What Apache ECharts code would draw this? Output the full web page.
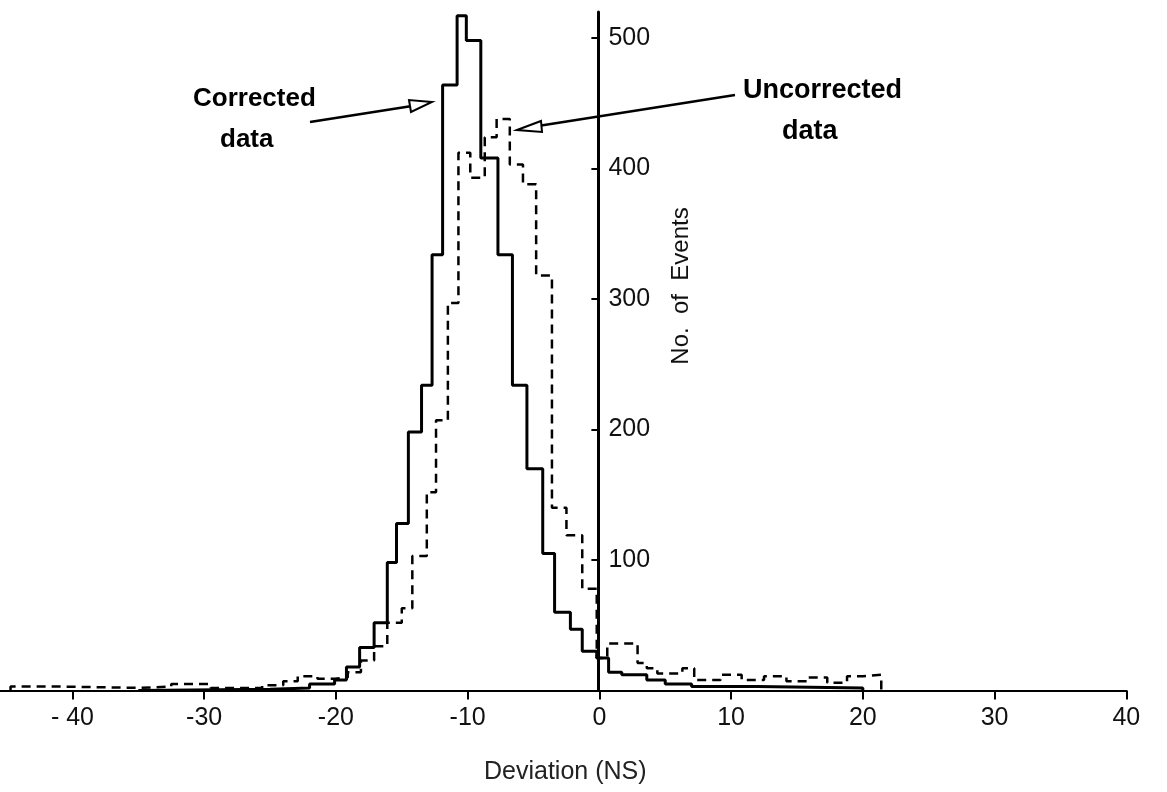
<!DOCTYPE html>
<html><head><meta charset="utf-8">
<script src="https://cdn.jsdelivr.net/npm/echarts@6/dist/echarts.min.js"></script>
<style>html,body{margin:0;padding:0;background:#fff}#c{width:1167px;height:792px}</style>
</head><body><div id="c"></div>
<script>
const xTickValues = [-40, -30, -20, -10, 0, 10, 20, 30, 40];
const xTickLabels = ['- 40', '-30', '-20', '-10', '0', '10', '20', '30', '40'];
const yTickValues = [100, 200, 300, 400, 500];

// Corrected data (solid): bin edges (ns) as drawn, and counts per bin
const correctedEdges = [-35, -25, -22, -20.1, -19.2, -18.2, -17.1, -16.1, -15.4, -14.5,
  -13.5, -12.7, -11.9, -10.8, -10.1, -9.0, -7.7, -6.6, -5.5, -4.3,
  -3.4, -2.2, -1.3, -0.2, 0.7, 1.7, 3.6, 5.0, 7.0, 12.0, 20.0];
const correctedCounts = [1, 2, 5, 8, 18, 33, 52, 98, 128, 198,
  234, 334, 464, 517, 498, 408, 334, 234, 170, 105,
  60, 47, 30, 25, 14, 12, 8, 5, 3, 2];

// Uncorrected data (dashed)
const uncorrectedEdges = [-44.7, -41, -35, -32.5, -29.5, -27.5, -25.6, -24.0, -22.9, -21.4,
  -20.1, -19.1, -18.1, -17.1, -16.1, -15.0, -14.2, -13.1, -12.4, -11.5,
  -10.7, -9.8, -8.7, -7.8, -6.8, -5.8, -4.8, -3.6, -2.5, -1.3,
  -0.2, 0.6, 2.9, 3.6, 4.4, 6.3, 7.2, 9.2, 10.8, 12.5,
  14.2, 15.8, 17.3, 18.8, 20.0, 21.4];
const uncorrectedCounts = [3, 2, 3, 5, 2, 2, 4, 7, 11, 9,
  10, 14, 23, 34, 52, 63, 103, 152, 207, 297,
  412, 393, 424, 438, 403, 388, 318, 140, 119, 78,
  25, 36, 21, 17, 13, 17, 8, 12, 8, 11,
  7, 10, 6, 11, 12];

function stepPath(edges, counts) {
  const pts = [[edges[0], 0]];
  for (let i = 0; i < counts.length; i++) {
    pts.push([edges[i], counts[i]]);
    pts.push([edges[i + 1], counts[i]]);
  }
  pts.push([edges[edges.length - 1], 0]);
  return pts;
}

const X_MIN = -45.5, X_MAX = 40;
const GRID_LEFT = 0, GRID_RIGHT = 40.7, CHART_W = 1167;
const plotW = CHART_W - GRID_LEFT - GRID_RIGHT;
const zeroOffset = GRID_LEFT + plotW * (0 - X_MIN) / (X_MAX - X_MIN);

const FONT = "'Liberation Sans', 'DejaVu Sans', sans-serif";
const chart = echarts.init(document.getElementById('c'), null, {renderer: 'canvas'});
chart.setOption({
  animation: false,
  backgroundColor: '#ffffff',
  grid: {left: GRID_LEFT, right: GRID_RIGHT, top: 11.9, bottom: 101.5},
  xAxis: {
    type: 'value', min: X_MIN, max: X_MAX,
    axisLine: {show: true, onZero: false, lineStyle: {color: '#000', width: 2}},
    axisTick: {show: true, customValues: xTickValues, length: 9, lineStyle: {color: '#000', width: 2}},
    axisLabel: {customValues: xTickValues, margin: 15, color: '#111', fontSize: 25, fontFamily: FONT,
      formatter: v => xTickLabels[xTickValues.indexOf(v)]},
    splitLine: {show: false}
  },
  yAxis: {
    type: 'value', min: 0, max: 520, position: 'left', offset: -(zeroOffset - GRID_LEFT) + 1,
    axisLine: {show: true, onZero: false, lineStyle: {color: '#000', width: 3}},
    axisTick: {show: true, customValues: yTickValues, length: 7, lineStyle: {color: '#000', width: 2}},
    axisLabel: {customValues: yTickValues, inside: true, margin: 10, color: '#111', fontSize: 25, fontFamily: FONT},
    splitLine: {show: false}
  },
  series: [
    {
      name: 'Uncorrected data', type: 'line', data: stepPath(uncorrectedEdges, uncorrectedCounts),
      symbol: 'none', lineStyle: {color: '#000', width: 2.5, type: [9, 6]}, z: 2
    },
    {
      name: 'Corrected data', type: 'line', data: stepPath(correctedEdges, correctedCounts),
      symbol: 'none', lineStyle: {color: '#000', width: 3}, z: 3
    }
  ],
  graphic: [
    {type: 'text', left: 193, top: 86, style: {text: 'Corrected', font: 'bold 26px ' + FONT, fill: '#000'}},
    {type: 'text', left: 220, top: 127, style: {text: 'data', font: 'bold 26px ' + FONT, fill: '#000'}},
    {type: 'text', left: 743, top: 77, style: {text: 'Uncorrected', font: 'bold 27px ' + FONT, fill: '#000'}},
    {type: 'text', left: 782, top: 118, style: {text: 'data', font: 'bold 27px ' + FONT, fill: '#000'}},
    {type: 'polyline', shape: {points: [[310, 122], [412, 106]]}, style: {stroke: '#000', lineWidth: 2.5}},
    {type: 'polygon', shape: {points: [[432, 102], [409, 100], [411, 112]]}, style: {stroke: '#000', fill: '#fff', lineWidth: 2}},
    {type: 'polyline', shape: {points: [[735, 95], [538, 126]]}, style: {stroke: '#000', lineWidth: 2.5}},
    {type: 'polygon', shape: {points: [[517, 130], [541, 121], [542, 132]]}, style: {stroke: '#000', fill: '#fff', lineWidth: 2}},
    {type: 'text', x: 681, y: 286, rotation: Math.PI / 2,
      style: {text: 'No.  of  Events', font: '24px ' + FONT, fill: '#111', textAlign: 'center', textVerticalAlign: 'middle'}},
    {type: 'text', left: 484, top: 760, style: {text: 'Deviation (NS)', font: '25px ' + FONT, fill: '#222'}}
  ]
});
</script></body></html>
